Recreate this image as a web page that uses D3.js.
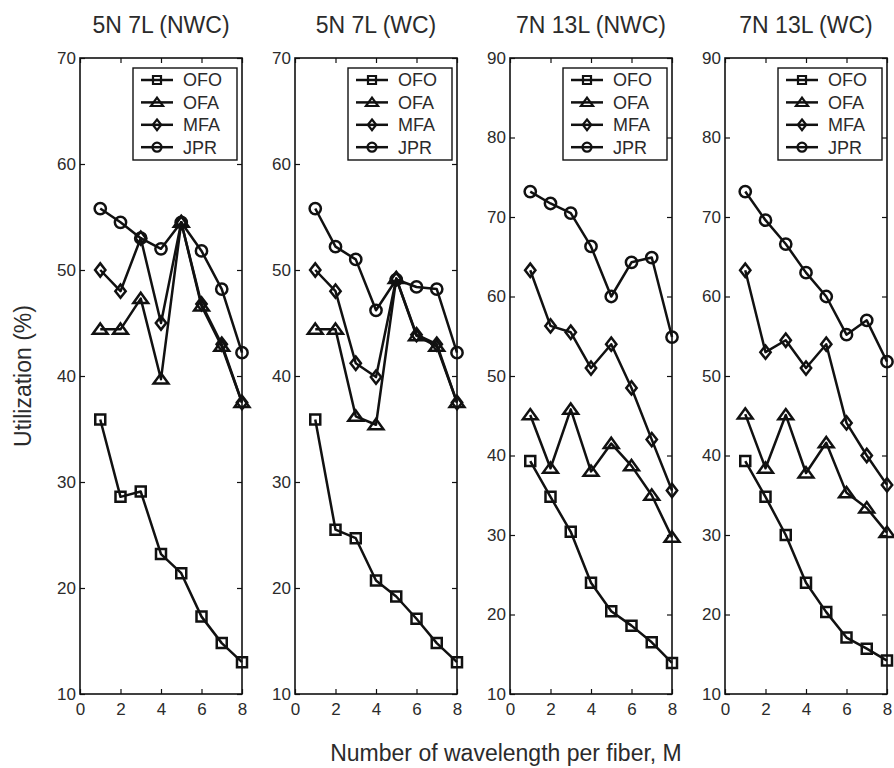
<!DOCTYPE html>
<html>
<head>
<meta charset="utf-8">
<script src="https://cdn.jsdelivr.net/npm/d3@7"></script>
<style>
  body { margin: 0; background: #fff; }
  text { font-family: "Liberation Sans", Arial, sans-serif; fill: #2b2b2b; }
</style>
</head>
<body>
<svg id="chart"></svg>
<script>
// data
const panelTitles = ['5N 7L (NWC)', '5N 7L (WC)', '7N 13L (NWC)', '7N 13L (WC)'];
const mValues = [1, 2, 3, 4, 5, 6, 7, 8];
const xTicks = [0, 2, 4, 6, 8];
const yDomains = [[10, 70], [10, 70], [10, 90], [10, 90]];
const seriesNames = ['OFO', 'OFA', 'MFA', 'JPR'];

const ofo = [
    [35.9, 28.6, 29.1, 23.2, 21.4, 17.3, 14.8, 13.0],
    [35.9, 25.5, 24.7, 20.7, 19.2, 17.1, 14.8, 13.0],
    [39.3, 34.8, 30.4, 24.0, 20.4, 18.6, 16.5, 13.9],
    [39.3, 34.8, 30.0, 24.0, 20.3, 17.1, 15.7, 14.2]
];
const ofa = [
    [44.4, 44.4, 47.3, 39.7, 54.5, 46.6, 42.8, 37.5],
    [44.4, 44.4, 36.2, 35.4, 49.2, 43.8, 42.8, 37.5],
    [45.1, 38.4, 45.8, 38.0, 41.5, 38.7, 35.0, 29.7],
    [45.2, 38.4, 45.1, 37.8, 41.6, 35.3, 33.4, 30.3]
];
const mfa = [
    [50.0, 48.0, 53.0, 45.0, 54.5, 46.8, 43.0, 37.5],
    [50.0, 48.0, 41.2, 39.9, 49.2, 43.9, 43.0, 37.5],
    [63.3, 56.3, 55.5, 51.0, 54.0, 48.5, 42.0, 35.6],
    [63.3, 53.0, 54.5, 51.0, 54.0, 44.1, 40.0, 36.3]
];
const jpr = [
    [55.8, 54.5, 53.0, 52.0, 54.5, 51.8, 48.2, 42.2],
    [55.8, 52.2, 51.0, 46.2, 49.1, 48.4, 48.2, 42.2],
    [73.2, 71.7, 70.5, 66.3, 60.0, 64.3, 64.9, 54.9],
    [73.2, 69.6, 66.6, 63.0, 60.0, 55.2, 57.0, 51.8]
];
const allSeries = [ofo, ofa, mfa, jpr];

const width = 894;
const height = 768;
const plotTop = 58, plotBottom = 694;
const plotW = 162;
const panelLeft = [80, 295, 510, 725];

const svg = d3.select('#chart').attr('width', width).attr('height', height);

// diamond a bit wider than d3's default
const diamond = {
    draw(ctx, size) {
        const h = Math.sqrt(size) * 0.72;
        const w = h * 0.78;
        ctx.moveTo(0, -h); ctx.lineTo(w, 0); ctx.lineTo(0, h); ctx.lineTo(-w, 0); ctx.closePath();
    }
};
const triangle = {
    draw(ctx, size) {
        const s = Math.sqrt(size);
        const hw = s * 0.78, hh = s * 0.62;
        ctx.moveTo(0, -hh); ctx.lineTo(hw, hh * 0.75); ctx.lineTo(-hw, hh * 0.75); ctx.closePath();
    }
};
const symbols = [d3.symbolSquare, triangle, diamond, d3.symbolCircle];
const plotSizes = [100, 90, 85, 100];
const legendSizes = [64, 60, 55, 64];

panelTitles.forEach((title, p) => {
    const x = d3.scaleLinear().domain([0, 8]).range([0, plotW]);
    const y = d3.scaleLinear().domain(yDomains[p]).range([plotBottom - plotTop, 0]);
    const h = plotBottom - plotTop;
    const yTicks = d3.range(yDomains[p][0], yDomains[p][1] + 1, 10);

    const g = svg.append('g').attr('transform', `translate(${panelLeft[p]},${plotTop})`);

    // axes with inward ticks
    const left = g.append('g').call(d3.axisLeft(y).tickValues(yTicks).tickSize(-5).tickPadding(4));
    const right = g.append('g').attr('transform', `translate(${plotW},0)`)
        .call(d3.axisRight(y).tickValues(yTicks).tickSize(-5).tickFormat(''));
    const top = g.append('g').call(d3.axisTop(x).tickValues(xTicks).tickSize(-5).tickFormat(''));
    const bottom = g.append('g').attr('transform', `translate(0,${h})`)
        .call(d3.axisBottom(x).tickValues(xTicks).tickSize(-5).tickPadding(9));

    [left, right, top, bottom].forEach(a => {
        a.select('.domain').remove();
        a.selectAll('line').attr('stroke', '#111').attr('stroke-width', 1.2);
        a.selectAll('text').style('font-size', '17px').attr('fill', '#2b2b2b');
    });

    g.append('rect')
        .attr('width', plotW).attr('height', h)
        .attr('fill', 'none').attr('stroke', '#111').attr('stroke-width', 1.6);

    const line = d3.line().x((d, i) => x(mValues[i])).y(d => y(d));

    allSeries.forEach((series, s) => {
        const vals = series[p];
        g.append('path')
            .datum(vals)
            .attr('d', line)
            .attr('fill', 'none')
            .attr('stroke', '#111')
            .attr('stroke-width', 2.5)
            .attr('stroke-linejoin', 'round');

        g.selectAll('.m' + s)
            .data(vals)
            .enter().append('path')
            .attr('class', 'm' + s)
            .attr('transform', (d, i) => `translate(${x(mValues[i])},${y(d)})`)
            .attr('d', d3.symbol().type(symbols[s]).size(plotSizes[s]))
            .attr('fill', 'none')
            .attr('stroke', '#111')
            .attr('stroke-width', 2.5);
    });

    // legend
    const lg = g.append('g').attr('transform', `translate(${plotW - 109},10)`);
    lg.append('rect')
        .attr('width', 104).attr('height', 92)
        .attr('fill', '#fff').attr('stroke', '#111').attr('stroke-width', 1.4);
    const item = lg.selectAll('.item')
        .data(seriesNames)
        .enter().append('g')
        .attr('class', 'item')
        .attr('transform', (d, i) => `translate(0,${12 + i * 22.4})`);
    item.append('line')
        .attr('x1', 8).attr('x2', 40)
        .attr('stroke', '#111').attr('stroke-width', 2.5);
    item.append('path')
        .attr('transform', 'translate(24,0)')
        .attr('d', (d, i) => d3.symbol().type(symbols[i]).size(legendSizes[i])())
        .attr('fill', 'none').attr('stroke', '#111').attr('stroke-width', 2.2);
    item.append('text')
        .attr('x', 50).attr('dy', '0.36em')
        .style('font-size', '18px')
        .text(d => d);

    // panel title
    svg.append('text')
        .attr('x', panelLeft[p] + plotW / 2)
        .attr('y', 33)
        .attr('text-anchor', 'middle')
        .style('font-size', '23px')
        .text(title);
});

svg.append('text')
    .attr('transform', `translate(31,376) rotate(-90)`)
    .attr('text-anchor', 'middle')
    .style('font-size', '23px')
    .text('Utilization (%)');

svg.append('text')
    .attr('x', 506)
    .attr('y', 761)
    .attr('text-anchor', 'middle')
    .style('font-size', '23px')
    .text('Number of wavelength per fiber, M');
</script>
</body>
</html>
